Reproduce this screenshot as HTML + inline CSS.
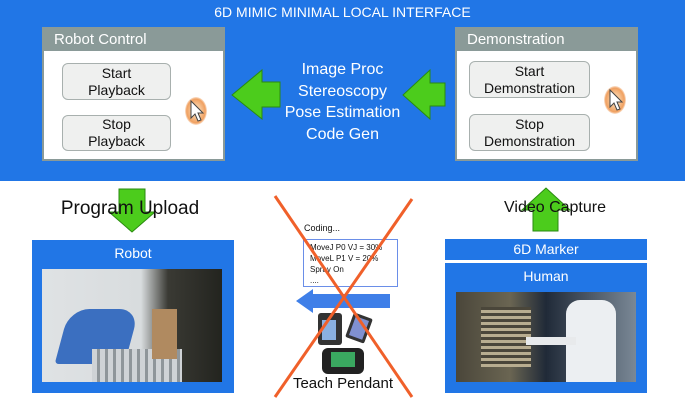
<!DOCTYPE html>
<html><head><meta charset="utf-8"><style>
*{margin:0;padding:0;box-sizing:border-box}
body{width:685px;height:402px;position:relative;overflow:hidden;background:#fff;font-family:"Liberation Sans","DejaVu Sans",sans-serif}
.a{position:absolute}
.top{left:0;top:0;width:685px;height:181px;background:#2176e6}
.win{background:#fff;border:2px solid #8a9a98}
.hdr{left:0;top:0;right:0;height:22px;background:#8a9a98;color:#fff;font-size:15px;padding-left:10px;line-height:22px}
.btn{background:#eff0ef;border:1px solid #a8b0ae;border-radius:6px;color:#111;font-size:14px;line-height:17px;text-align:center;display:flex;align-items:center;justify-content:center}
.wt{color:#fff;text-align:center}
.cur{width:22px;height:28px;border-radius:50%;background:radial-gradient(#f6c79a 30%,#f0a060 60%,rgba(255,255,255,0) 75%)}
</style></head><body>
<div class="a top"></div>
<div class="a wt" style="left:0;width:685px;top:4px;font-size:14px">6D MIMIC MINIMAL LOCAL INTERFACE</div>

<div class="a win" style="left:42px;top:27px;width:183px;height:134px"><div class="a hdr">Robot Control</div></div>
<div class="a btn" style="left:62px;top:63px;width:109px;height:37px">Start<br>Playback</div>
<div class="a btn" style="left:62px;top:115px;width:109px;height:36px">Stop<br>Playback</div>

<div class="a win" style="left:455px;top:27px;width:183px;height:134px"><div class="a hdr">Demonstration</div></div>
<div class="a btn" style="left:469px;top:61px;width:121px;height:37px">Start<br>Demonstration</div>
<div class="a btn" style="left:469px;top:114px;width:121px;height:37px">Stop<br>Demonstration</div>

<div class="a cur" style="left:185px;top:97px"></div>
<div class="a cur" style="left:604px;top:86px"></div>
<svg class="a" style="left:0;top:0" width="685" height="402">
<path d="M191 101 L191 118 L195 114 L198 121 L201 120 L198 113 L203 113 Z" fill="#fff" stroke="#444" stroke-width="1"/>
<path d="M610 90 L610 107 L614 103 L617 110 L620 109 L617 102 L622 102 Z" fill="#fff" stroke="#444" stroke-width="1"/>
<path d="M232 95 L262 70 L262 82 L280 82 L280 107 L262 107 L262 119 Z" fill="#4ccc1c" stroke="#2a8a10"/>
<path d="M403 95 L430 70 L430 83 L445 83 L445 106 L430 106 L430 119 Z" fill="#4ccc1c" stroke="#2a8a10"/>
<path d="M119 189 L145 189 L145 212 L155 212 L132 232 L109 212 L119 212 Z" fill="#4ccc1c" stroke="#2a8a10"/>
<path d="M533 231 L558 231 L558 210 L570 210 L546 188 L522 210 L533 210 Z" fill="#4ccc1c" stroke="#2a8a10"/>
</svg>

<div class="a wt" style="left:280px;width:125px;top:59px;font-size:16px;line-height:21.5px">Image Proc<br>Stereoscopy<br>Pose Estimation<br>Code Gen</div>

<div class="a" style="left:30px;width:200px;top:198px;font-size:19px;color:#111;text-align:center">Program Upload</div>
<div class="a" style="left:490px;width:130px;top:199px;font-size:16px;color:#111;text-align:center">Video Capture</div>

<div class="a" style="left:32px;top:240px;width:202px;height:153px;background:#2176e6"></div>
<div class="a wt" style="left:32px;width:202px;top:245px;font-size:14px">Robot</div>
<div class="a" style="left:42px;top:269px;width:180px;height:113px;background:linear-gradient(90deg,#dfe2e4 0%,#d8dcde 55%,#3a3a34 70%,#23241f 100%);overflow:hidden">
<div class="a" style="left:20px;top:40px;width:70px;height:55px;background:#3b6fc0;border-radius:20px 20px 4px 4px;transform:skewX(-15deg)"></div>
<div class="a" style="left:50px;top:80px;width:90px;height:33px;background:repeating-linear-gradient(90deg,#cfd3d6 0 5px,#8f969a 5px 8px)"></div>
<div class="a" style="left:110px;top:40px;width:25px;height:50px;background:#b08a60"></div>
</div>

<div class="a" style="left:445px;top:239px;width:202px;height:21px;background:#2176e6"></div>
<div class="a wt" style="left:445px;width:202px;top:241px;font-size:14px">6D Marker</div>
<div class="a" style="left:445px;top:263px;width:202px;height:130px;background:#2176e6"></div>
<div class="a wt" style="left:445px;width:202px;top:268px;font-size:14px">Human</div>
<div class="a" style="left:456px;top:292px;width:180px;height:90px;background:linear-gradient(90deg,#4a463a 0%,#6a6552 30%,#202a38 50%,#7a8896 100%);overflow:hidden">
<div class="a" style="left:25px;top:15px;width:50px;height:60px;background:repeating-linear-gradient(0deg,#b8ad90 0 3px,#4a463a 3px 6px)"></div>
<div class="a" style="left:110px;top:8px;width:50px;height:82px;background:#eceff2;border-radius:14px 14px 0 0"></div>
<div class="a" style="left:70px;top:45px;width:50px;height:8px;background:#e8eaec"></div>
</div>

<div class="a" style="left:304px;top:223px;font-size:9px;color:#111">Coding...</div>
<div class="a" style="left:303px;top:239px;width:95px;height:48px;border:1px solid #6a8ee8;background:#fff;font-size:8px;line-height:11px;padding:2px 0 0 6px;color:#111">MoveJ P0 VJ = 30%<br>MoveL P1 V = 20%<br>Spray On<br>....</div>
<svg class="a" style="left:0;top:0" width="685" height="402">
<path d="M296 301 L313 289 L313 294 L390 294 L390 308 L313 308 L313 313 Z" fill="#3f7fe8"/>
<rect x="318" y="313" width="24" height="32" rx="3" fill="#333"/><rect x="322" y="320" width="14" height="20" fill="#8ab0e0"/>
<rect x="349" y="315" width="20" height="26" rx="2" fill="#333" transform="rotate(20 359 328)"/><rect x="352" y="318" width="14" height="20" fill="#8090d0" transform="rotate(20 359 328)"/>
<rect x="322" y="348" width="42" height="26" rx="6" fill="#222"/><rect x="331" y="352" width="24" height="15" fill="#3aa860"/>
<line x1="275" y1="196" x2="412" y2="397" stroke="#f0602a" stroke-width="3"/>
<line x1="412" y1="199" x2="275" y2="397" stroke="#f0602a" stroke-width="3"/>
</svg>
<div class="a" style="left:273px;width:140px;top:375px;font-size:15px;color:#111;text-align:center">Teach Pendant</div>
</body></html>
